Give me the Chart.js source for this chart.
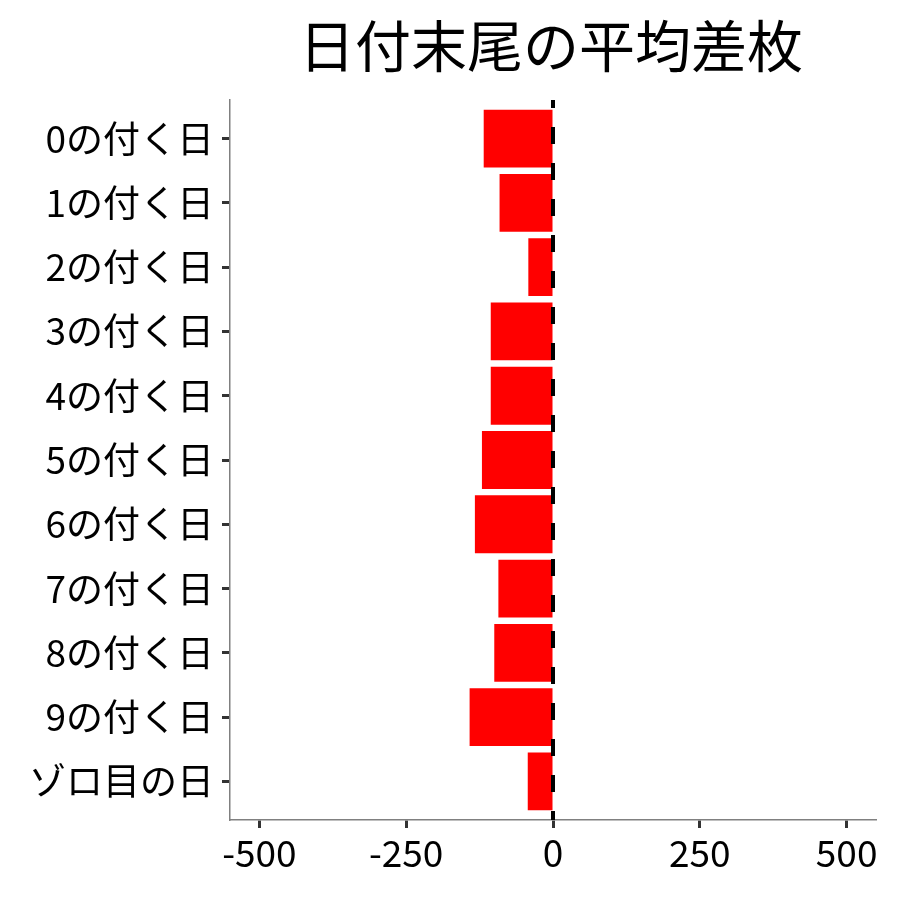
<!DOCTYPE html>
<html>
<head>
<meta charset="utf-8">
<script src="https://cdn.jsdelivr.net/npm/chart.js@4"></script>
<style>
  html, body { margin: 0; padding: 0; background: #fff; }
  #wrap { width: 900px; height: 900px; }
</style>
</head>
<body>
<div id="wrap"><canvas id="myChart" width="900" height="900"></canvas></div>
<script>
// data
const chartTitle = "日付末尾の平均差枚";
const categories = ["0の付く日", "1の付く日", "2の付く日", "3の付く日", "4の付く日",
  "5の付く日", "6の付く日", "7の付く日", "8の付く日", "9の付く日", "ゾロ目の日"];
const diffValues = [-118, -91, -42, -106, -106, -121, -133, -93, -100, -142, -43];
const xTicks = [-500, -250, 0, 250, 500];

const FONT = "'Noto Sans CJK JP', 'Noto Sans', sans-serif";

// title centred over the plot panel, dashed zero line
const extras = {
  id: "extras",
  afterDatasetsDraw(chart) {
    const { ctx, chartArea, scales } = chart;
    const x0 = scales.x.getPixelForValue(0);
    ctx.save();
    ctx.strokeStyle = "#000";
    ctx.lineWidth = 4;
    ctx.setLineDash([17, 19]);
    ctx.lineDashOffset = 9;
    ctx.beginPath();
    ctx.moveTo(x0, chartArea.top);
    ctx.lineTo(x0, chartArea.bottom);
    ctx.stroke();
    ctx.restore();
  },
  afterDraw(chart) {
    const { ctx, chartArea } = chart;
    ctx.save();
    ctx.fillStyle = "#000";
    ctx.font = "56px " + FONT;
    ctx.textAlign = "center";
    ctx.textBaseline = "middle";
    ctx.fillText(chartTitle, (chartArea.left + chartArea.right) / 2 - 2, 46);
    ctx.restore();
  },
};

const ctx = document.getElementById("myChart").getContext("2d");
const myChart = new Chart(ctx, {
  type: "bar",
  data: {
    datasets: [
      {
        data: diffValues.map((v, i) => ({ x: v, y: i })),
        backgroundColor: "#ff0000",
        borderWidth: 0,
        categoryPercentage: 0.9,
        barPercentage: 1,
      },
    ],
  },
  options: {
    indexAxis: "y",
    responsive: false,
    animation: false,
    layout: { padding: { top: 100, right: 24, left: 0, bottom: 0 } },
    plugins: { legend: { display: false }, tooltip: { enabled: false } },
    scales: {
      x: {
        type: "linear",
        min: -550,
        max: 550,
        afterBuildTicks(scale) {
          scale.ticks = xTicks.map((v) => ({ value: v }));
        },
        afterFit(scale) {
          scale.height = 80;
        },
        grid: {
          drawOnChartArea: false,
          drawTicks: true,
          tickLength: 8,
          tickWidth: 3,
          tickColor: "#333",
        },
        border: { color: "#808080", width: 1.5 },
        ticks: {
          color: "#000",
          padding: 3,
          maxRotation: 0,
          font: { family: FONT, size: 37 },
        },
      },
      y: {
        type: "linear",
        reverse: true,
        offset: false,
        min: -0.6,
        max: categories.length - 0.4,
        afterBuildTicks(scale) {
          scale.ticks = categories.map((c, i) => ({ value: i }));
        },
        afterFit(scale) {
          scale.width = 230;
        },
        grid: {
          offset: false,
          drawOnChartArea: false,
          drawTicks: true,
          tickLength: 8,
          tickWidth: 3,
          tickColor: "#333",
        },
        border: { color: "#808080", width: 1.5 },
        ticks: {
          color: "#000",
          padding: 8,
          autoSkip: false,
          font: { family: FONT, size: 37 },
          callback: (v) => categories[v],
        },
      },
    },
  },
  plugins: [extras],
});
</script>
</body>
</html>
